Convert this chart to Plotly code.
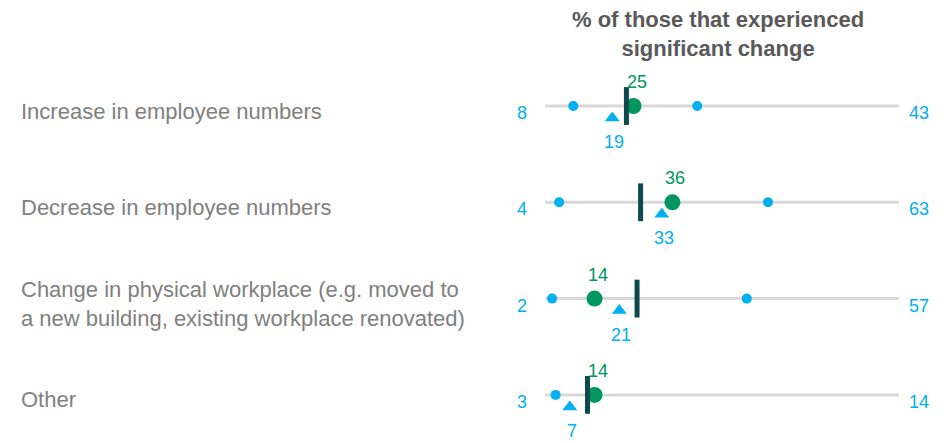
import plotly.graph_objects as go

categories = [
    "Increase in employee numbers",
    "Decrease in employee numbers",
    "Change in physical workplace (e.g. moved to<br>a new building, existing workplace renovated)",
    "Other",
]
min_vals = [8, 4, 2, 3]
max_vals = [43, 63, 57, 14]
green_vals = [25, 36, 14, 14]
triangle_vals = [19, 33, 21, 7]
bar_vals = [23, 27, 26, 12]
title_text = "% of those that experienced<br>significant change"

W, H = 944, 443
BLUE = "#00B0F0"
GREEN = "#00965E"
TEAL = "#0D4A4D"
GRAY_LINE = "#D9D9D9"
LABEL_GRAY = "#808080"
FONT = "Liberation Sans, Arial, sans-serif"

rows = list(range(len(categories)))
row_px = 96.3
tri_off = 12 / row_px

fig = go.Figure()

# gray track lines
for i in rows:
    fig.add_trace(go.Scatter(x=[0, 100], y=[i, i], mode="lines",
                             line=dict(color=GRAY_LINE, width=3),
                             hoverinfo="skip", showlegend=False))

# min / max blue dots
fig.add_trace(go.Scatter(x=min_vals + max_vals, y=rows + rows, mode="markers",
                         marker=dict(color=BLUE, size=10), showlegend=False))

# triangles
fig.add_trace(go.Scatter(x=triangle_vals, y=[i + tri_off for i in rows], mode="markers",
                         marker=dict(color=BLUE, size=13, symbol="triangle-up"),
                         showlegend=False))

# green dots
fig.add_trace(go.Scatter(x=green_vals, y=rows, mode="markers",
                         marker=dict(color=GREEN, size=16), showlegend=False))

# dark bars (drawn on top)
fig.add_trace(go.Scatter(x=bar_vals, y=rows, mode="markers",
                         marker=dict(symbol="line-ns", size=27,
                                     line=dict(color=TEAL, width=5)),
                         showlegend=False))

ann = []
x0p, x1p = 545 / W, 899 / W
for i in rows:
    ann.append(dict(x=19 / W, xref="paper", y=i, yref="y", text=categories[i],
                    xanchor="left", yanchor="middle", align="left", showarrow=False,
                    yshift=-5, font=dict(family=FONT, size=22, color=LABEL_GRAY)))
    ann.append(dict(x=522 / W, xref="paper", y=i, yref="y", text=str(min_vals[i]),
                    xanchor="center", yanchor="middle", showarrow=False, yshift=-7,
                    font=dict(family=FONT, size=18, color=BLUE)))
    ann.append(dict(x=919 / W, xref="paper", y=i, yref="y", text=str(max_vals[i]),
                    xanchor="center", yanchor="middle", showarrow=False, yshift=-7,
                    font=dict(family=FONT, size=18, color=BLUE)))
    ann.append(dict(x=green_vals[i], xref="x", y=i, yref="y", text=str(green_vals[i]),
                    xanchor="center", yanchor="middle", showarrow=False, yshift=24,
                    xshift=3, font=dict(family=FONT, size=18, color=GREEN)))
    ann.append(dict(x=triangle_vals[i], xref="x", y=i, yref="y", text=str(triangle_vals[i]),
                    xanchor="center", yanchor="middle", showarrow=False, yshift=-36,
                    xshift=2, font=dict(family=FONT, size=18, color=BLUE)))

ann.append(dict(x=718 / W, xref="paper", y=1 - 34 / H, yref="paper", text=title_text,
                xanchor="center", yanchor="middle", showarrow=False,
                font=dict(family=FONT, size=22, color="#595959", weight="bold")))

fig.update_layout(
    width=W, height=H,
    margin=dict(l=0, r=0, t=0, b=0),
    paper_bgcolor="white", plot_bgcolor="white",
    xaxis=dict(domain=[x0p, x1p], range=[0, 100], visible=False, fixedrange=True),
    yaxis=dict(domain=[0, 1], range=[(H - 106) / row_px, -106 / row_px],
               visible=False, fixedrange=True),
    annotations=ann,
    showlegend=False,
)

fig.write_html("out.html", config={"displayModeBar": False},
               post_script="document.body.style.margin='0';")
